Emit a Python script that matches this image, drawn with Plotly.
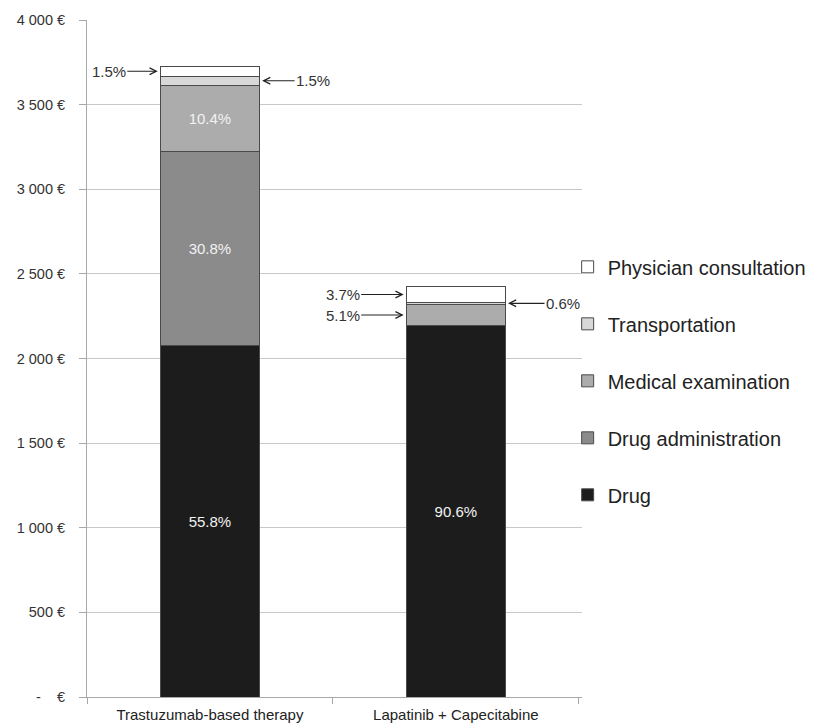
import plotly.graph_objects as go

# Treatment arms and their total cost per patient (EUR)
categories = ["Trastuzumab-based therapy", "Lapatinib + Capecitabine"]
totals = [3725, 2423]

# Share of each cost component in the total (%)
pct_drug = [55.8, 90.6]
pct_admin = [30.8, 0.0]
pct_exam = [10.4, 5.1]
pct_transport = [1.5, 0.6]
pct_physician = [1.5, 3.7]

y_tickvals = [0, 500, 1000, 1500, 2000, 2500, 3000, 3500, 4000]
y_ticktext = ["-\u00a0\u00a0\u00a0\u00a0€", "500 €", "1 000 €", "1 500 €", "2 000 €",
              "2 500 €", "3 000 €", "3 500 €", "4 000 €"]

FONT = "Liberation Sans, Arial, sans-serif"
BAR_WIDTH = 0.4
OUTLINE = "#4a4a4a"


def euros(pcts):
    return [t * p / 100 if p else None for t, p in zip(totals, pcts)]


# (name, shares, fill colour, labels shown inside the bar)
components = [
    ("Drug", pct_drug, "#1c1c1c", [True, True]),
    ("Drug administration", pct_admin, "#8b8b8b", [True, False]),
    ("Medical examination", pct_exam, "#acacac", [True, False]),
    ("Transportation", pct_transport, "#d8d8d8", [False, False]),
    ("Physician consultation", pct_physician, "#ffffff", [False, False]),
]

fig = go.Figure()
for i, (name, pcts, color, show) in enumerate(components):
    fig.add_trace(go.Bar(
        name=name,
        x=categories,
        y=euros(pcts),
        width=BAR_WIDTH,
        marker=dict(color=color, line=dict(color=OUTLINE, width=1)),
        text=[f"{p:.1f}%" if s else "" for p, s in zip(pcts, show)],
        textposition="inside",
        insidetextanchor="middle",
        textfont=dict(family=FONT, size=15, color="#f2f2f2"),
        legendgroup=f"g{i}",
        legendrank=len(components) - i,
        hoverinfo="name+y",
    ))


def mid(cat_idx, comp_idx):
    """Vertical centre of one stacked segment."""
    below = sum((components[k][1][cat_idx] for k in range(comp_idx)))
    share = components[comp_idx][1][cat_idx]
    return totals[cat_idx] * (below + share / 2) / 100


# Call-out labels for the thin segments: (category, component, side, dx)
callouts = [
    (0, 4, "left", -52),
    (0, 3, "right", 54),
    (1, 4, "left", -64),
    (1, 2, "left", -64),
    (1, 3, "right", 58),
]
annotations = []
for ci, k, side, dx in callouts:
    edge = ci - BAR_WIDTH / 2 if side == "left" else ci + BAR_WIDTH / 2
    annotations.append(dict(
        x=edge, y=mid(ci, k), xref="x", yref="y",
        text=f"{components[k][1][ci]:.1f}%",
        showarrow=True, arrowhead=5, arrowsize=1.1, arrowwidth=1.2,
        arrowcolor="#222222", standoff=3,
        ax=dx, ay=0,
        font=dict(family=FONT, size=15, color="#333333"),
    ))

fig.update_layout(
    width=813, height=727,
    margin=dict(l=87, r=231, t=20, b=30, autoexpand=False),
    barmode="stack",
    bargap=0.6,
    paper_bgcolor="white",
    plot_bgcolor="white",
    font=dict(family=FONT, color="#333333"),
    annotations=annotations,
    showlegend=True,
    legend=dict(
        x=0.971, xanchor="left", y=0.467, yanchor="middle",
        traceorder="grouped",
        tracegroupgap=28,
        font=dict(family=FONT, size=20, color="#222222"),
        bgcolor="rgba(0,0,0,0)",
        itemwidth=30,
    ),
    xaxis=dict(
        type="category",
        showline=True, linecolor="#a8a8a8", linewidth=1,
        ticks="outside", ticklen=6, tickcolor="#a8a8a8",
        tickson="boundaries",
        ticklabelstandoff=4,
        tickfont=dict(family=FONT, size=15, color="#222222"),
        showgrid=False,
    ),
    yaxis=dict(
        range=[0, 4000],
        tickvals=y_tickvals, ticktext=y_ticktext,
        showline=True, linecolor="#a8a8a8", linewidth=1,
        ticks="outside", ticklen=7, tickcolor="#a8a8a8",
        ticklabelstandoff=11,
        showgrid=True, gridcolor="#c8c8c8", gridwidth=1,
        zeroline=False,
        tickfont=dict(family=FONT, size=14.5, color="#333333"),
    ),
)

fig.write_html("out.html")
